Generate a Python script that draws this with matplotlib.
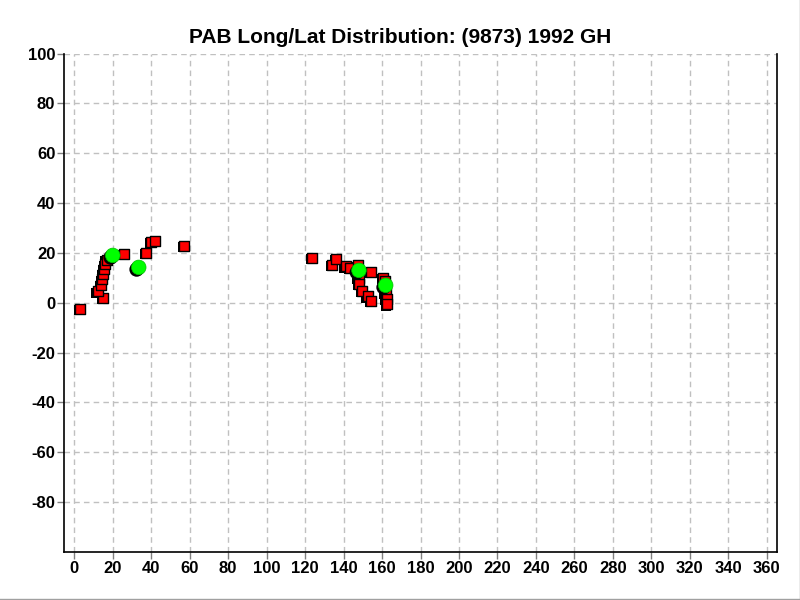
import matplotlib
matplotlib.use("Agg")
import matplotlib.pyplot as plt
import matplotlib.patheffects as pe
from matplotlib.lines import Line2D

plt.rcParams['font.family'] = ['Liberation Sans', 'DejaVu Sans']
plt.rcParams['axes.unicode_minus'] = False

title = "PAB Long/Lat Distribution: (9873) 1992 GH"

red_lon = [3.1, 15.1, 12.2, 14.0, 14.6, 15.1, 15.6, 16.1, 16.8, 26.0, 37.4, 40.1, 42.1, 57.2,
           123.8, 134.2, 136.2, 141.1, 143.4, 147.7, 154.3, 147.9, 148.1, 149.8, 152.6, 154.5,
           160.7, 161.4, 161.9, 162.4, 162.8]
red_lat = [-2.4, 2.0, 4.6, 7.3, 9.4, 11.5, 13.5, 15.5, 17.3, 19.7, 20.1, 24.5, 24.9, 22.9,
           18.1, 15.3, 17.7, 14.6, 14.1, 15.0, 12.5, 10.1, 7.7, 4.9, 2.6, 0.7,
           10.1, 8.6, 4.0, 1.6, -0.6]

green_lon = [20.0, 33.5, 148.0, 161.9]
green_lat = [19.0, 14.2, 13.0, 7.0]

xticks = list(range(0, 361, 20))
yticks = list(range(-80, 101, 20))

fig = plt.figure(figsize=(8, 6), dpi=100)
ax = fig.add_axes([0.0804, 0.08, 0.8905, 0.8308])
ax.set_xlim(-5.2, 365.2)
ax.set_ylim(-100, 100)

ax.set_xticks(xticks)
ax.set_yticks(yticks)
ax.grid(True, color='#c0c0c0', linestyle=(0, (4, 3)), linewidth=1)
ax.set_axisbelow(True)

for s in ['left', 'bottom', 'right']:
    ax.spines[s].set_color('black')
    ax.spines[s].set_linewidth(1.2)
ax.spines['top'].set_visible(False)

ax.tick_params(axis='both', direction='out', length=5, width=1, color='#808080',
               labelsize=12, pad=1.5)
for lab in ax.get_xticklabels() + ax.get_yticklabels():
    lab.set_fontweight('bold')

shadow = [pe.SimplePatchShadow(offset=(-1.0, -1.0), shadow_rgbFace='black', alpha=1.0), pe.Normal()]
shadow_g = [pe.SimplePatchShadow(offset=(-1.5, -1.5), shadow_rgbFace='black', alpha=1.0), pe.Normal()]

ax.scatter(red_lon, red_lat, s=52, marker='s', facecolor='#ff0000', edgecolor='black',
           linewidth=1, zorder=3, path_effects=shadow)
ax.scatter(green_lon, green_lat, s=110, marker='o', facecolor='#00ff00', edgecolor='#00c000',
           linewidth=0.5, zorder=4, path_effects=shadow_g)

fig.text(0.5, 0.938, title, ha='center', va='center', fontsize=15, fontweight='bold')

# window frame lines (right and bottom)
fig.add_artist(Line2D([0.9994, 0.9994], [0, 1], transform=fig.transFigure, color='#a0a0a0', linewidth=1))
fig.add_artist(Line2D([0, 1], [0.0009, 0.0009], transform=fig.transFigure, color='#a0a0a0', linewidth=1))

fig.savefig('out.png', dpi=100)
